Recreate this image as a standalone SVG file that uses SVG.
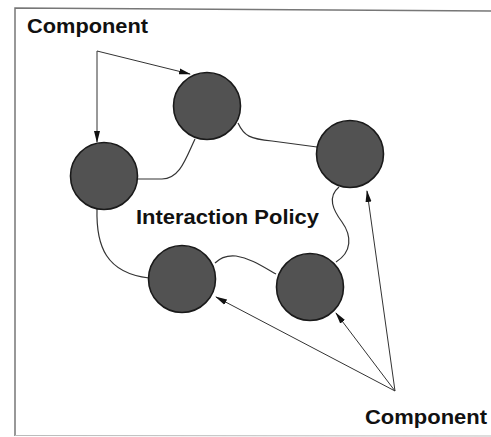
<svg xmlns="http://www.w3.org/2000/svg" width="491" height="437" viewBox="0 0 491 437">
<defs>
<style>
.node{fill:#525252;stroke:#1a1a1a;stroke-width:1.6}
.link{fill:none;stroke:#333;stroke-width:1.2}
.arrow{fill:none;stroke:#333;stroke-width:1}
.lbl{font-family:"Liberation Sans",Arial,sans-serif;font-weight:bold;fill:#111}
.frame{fill:none;stroke:#777;stroke-width:1.5}
</style>
<marker id="ah" markerWidth="12" markerHeight="8" refX="11" refY="4" orient="auto" markerUnits="userSpaceOnUse">
<path d="M0,1 L12,4 L0,7 Z" fill="#111"/>
</marker>
</defs>
<rect width="491" height="437" fill="#fff"/>
<path class="frame" d="M15,436 L15,8 L491,11"/>
<path d="M15,435.5 L491,436" stroke="#bbb" stroke-width="1"/>
<g id="connectors">
<path class="link" d="M195,139 C186,158 180,179 162,179 L137,179"/>
<path class="link" d="M238,123 C244,136 250,139 272,141 L317,147"/>
<path class="link" d="M339,187 C327,197 333,210 342,222 C352,236 352,252 336,262"/>
<path class="link" d="M276,274 C262,266 250,258 236,256 C226,255 220,258 215,263"/>
<path class="link" d="M97,209 C96,246 106,273 149,278"/>
<path class="arrow" marker-end="url(#ah)" d="M97,51 L97,142"/>
<path class="arrow" marker-end="url(#ah)" d="M97,51 L190,74"/>
<path class="arrow" marker-end="url(#ah)" d="M395,391 L216,297"/>
<path class="arrow" marker-end="url(#ah)" d="M395,391 L336,313"/>
<path class="arrow" marker-end="url(#ah)" d="M395,391 L367,191"/>
</g>
<g id="n1"><circle class="node" cx="207" cy="106" r="33.5"/></g>
<g id="n2"><circle class="node" cx="104" cy="176" r="33.5"/></g>
<g id="n3"><circle class="node" cx="350" cy="154" r="33.5"/></g>
<g id="n4"><circle class="node" cx="310" cy="287" r="33.5"/></g>
<g id="n5"><circle class="node" cx="182" cy="279" r="33.5"/></g>
<g id="label-top"><text class="lbl" x="27" y="33" font-size="20" textLength="121" lengthAdjust="spacingAndGlyphs">Component</text></g>
<g id="label-center"><text class="lbl" x="136" y="224" font-size="19.5" textLength="183" lengthAdjust="spacingAndGlyphs">Interaction Policy</text></g>
<g id="label-bottom"><text class="lbl" x="365" y="424" font-size="20" textLength="122" lengthAdjust="spacingAndGlyphs">Component</text></g>
</svg>
